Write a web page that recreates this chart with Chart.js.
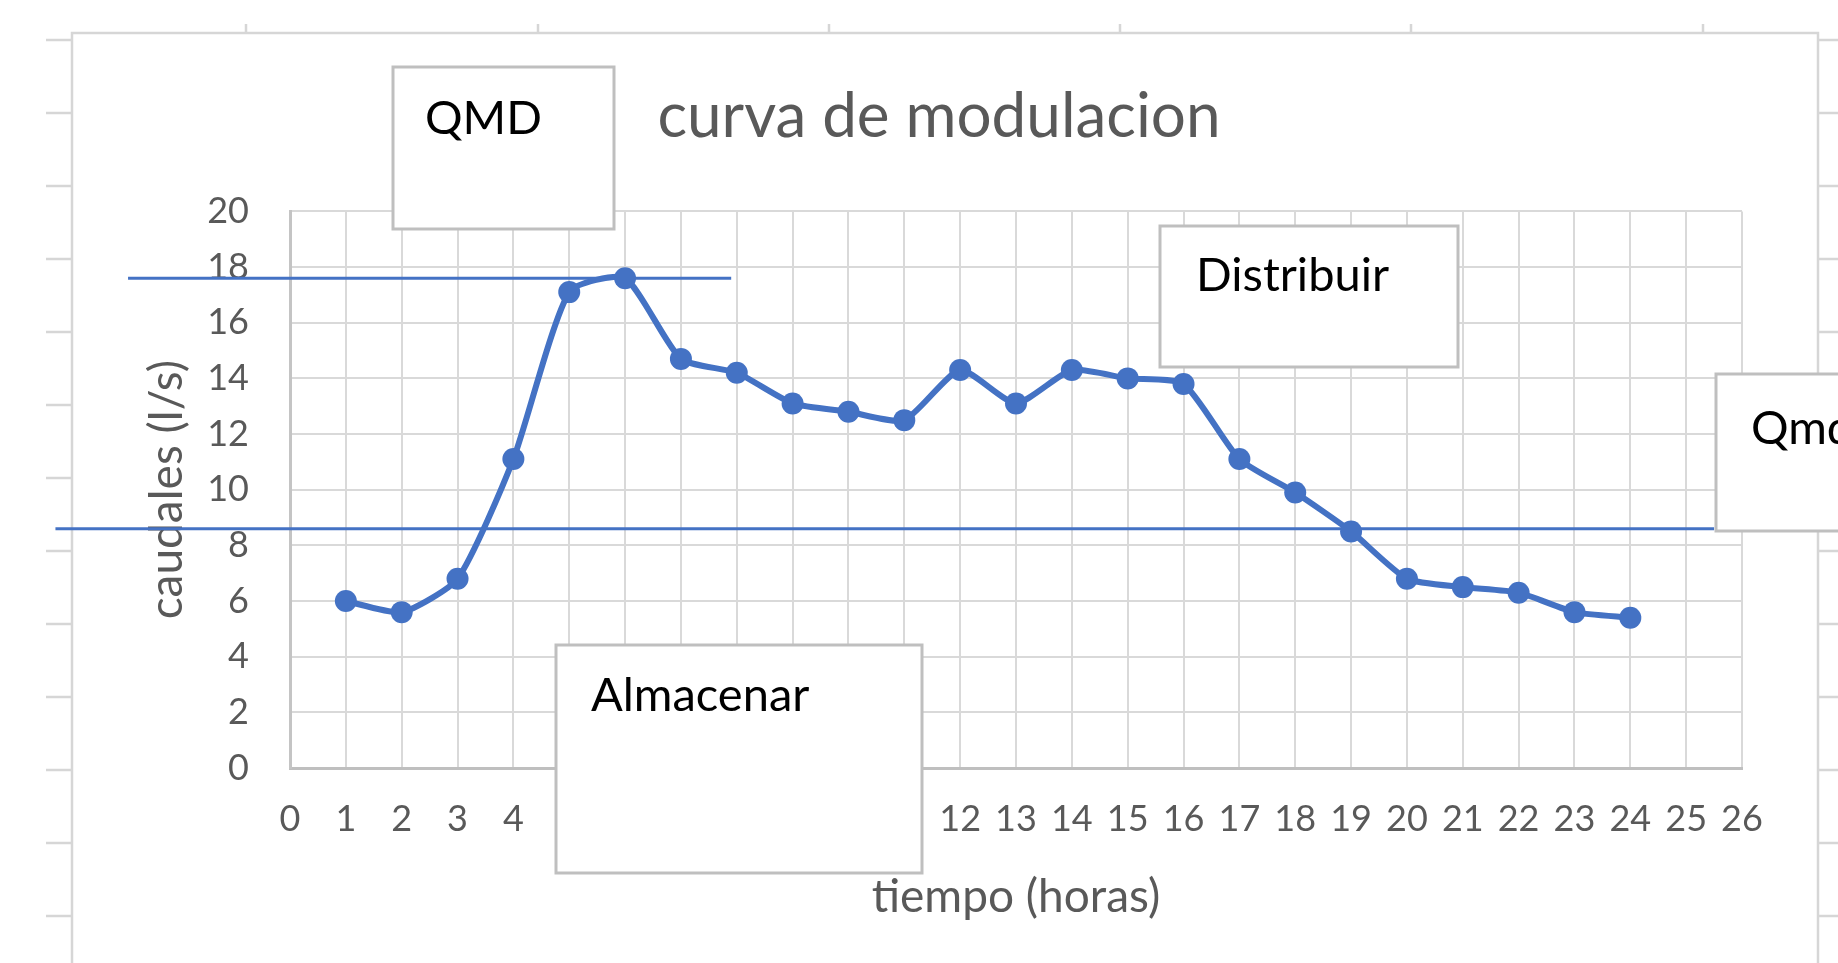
<!DOCTYPE html>
<html>
<head>
<meta charset="utf-8">
<title>curva de modulacion</title>
<script src="https://cdn.jsdelivr.net/npm/chart.js@4.4.1/dist/chart.umd.min.js"></script>
<style>
    html, body { margin: 0; padding: 0; background: #ffffff; }
    #wrap { position: relative; width: 1838px; height: 963px; }
</style>
</head>
<body>
<div id="wrap"><canvas id="modChart"></canvas></div>
<script>
// DATOS
const horas = [1, 2, 3, 4, 5, 6, 7, 8, 9, 10, 11, 12, 13, 14, 15, 16, 17, 18, 19, 20, 21, 22, 23, 24];
const caudales = [6.0, 5.6, 6.8, 11.1, 17.1, 17.6, 14.7, 14.2, 13.1, 12.8, 12.5, 14.3,
                  13.1, 14.3, 14.0, 13.8, 11.1, 9.9, 8.5, 6.8, 6.5, 6.3, 5.6, 5.4];

// ticks de los ejes
const ticksX = [0, 1, 2, 3, 4, 5, 6, 7, 8, 9, 10, 11, 12, 13, 14, 15, 16, 17, 18, 19, 20, 21, 22, 23, 24, 25, 26];
const ticksY = [0, 2, 4, 6, 8, 10, 12, 14, 16, 18, 20];

// lineas horizontales dibujadas a mano (nivel y tramo en horas)
const qmdNivel = 8.6;
const qmdTramo = [-4.2, 25.5];
const qmaxNivel = 17.6;
const qmaxTramo = [-2.9, 7.9];

const AZUL = "#4472C4";
const GRIS = "#595959";

Chart.defaults.font.family = "Lato, 'Noto Sans', sans-serif";

// FONDO TIPO HOJA DE CALCULO
const hojaFondo = {
    id: "hojaFondo",
    beforeDraw(chart) {
        const ctx = chart.ctx;
        ctx.save();
        ctx.fillStyle = "#ffffff";
        ctx.fillRect(0, 0, chart.width, chart.height);
        ctx.strokeStyle = "#d6d6d6";
        ctx.lineWidth = 2.5;

        // marco del grafico
        ctx.beginPath();
        ctx.moveTo(72, chart.height);
        ctx.lineTo(72, 33);
        ctx.lineTo(1818, 33);
        ctx.lineTo(1818, chart.height);
        ctx.stroke();

        // lineas de filas a los lados
        const filas = [40, 113, 186, 259, 332, 405, 478, 551, 624, 697, 770, 843, 916];
        ctx.beginPath();
        filas.forEach(function (y) {
            ctx.moveTo(46, y); ctx.lineTo(72, y);
            ctx.moveTo(1818, y); ctx.lineTo(1838, y);
        });
        // lineas de columnas arriba
        [246, 538, 829, 1120, 1411, 1703].forEach(function (x) {
            ctx.moveTo(x, 24); ctx.lineTo(x, 33);
        });
        ctx.stroke();
        ctx.restore();
    }
};

// CUADROS DE TEXTO
const cuadros = [
    { texto: "QMD", x: 393, y: 67, w: 221, h: 162, tx: 425, ty: 134 },
    { texto: "Distribuir", x: 1160, y: 226, w: 298, h: 141, tx: 1196, ty: 291 },
    { texto: "Almacenar", x: 556, y: 645, w: 366, h: 228, tx: 591, ty: 711 },
    { texto: "Qmd", x: 1716, y: 374, w: 160, h: 157, tx: 1751, ty: 444 }
];

const cuadrosTexto = {
    id: "cuadrosTexto",
    afterDraw(chart) {
        const ctx = chart.ctx;
        ctx.save();
        cuadros.forEach(function (c) {
            ctx.fillStyle = "#ffffff";
            ctx.fillRect(c.x, c.y, c.w, c.h);
            ctx.strokeStyle = "#bfbfbf";
            ctx.lineWidth = 3;
            ctx.strokeRect(c.x, c.y, c.w, c.h);
            ctx.fillStyle = "#000000";
            ctx.font = "47px Lato, 'Noto Sans', sans-serif";
            ctx.textBaseline = "alphabetic";
            ctx.textAlign = "left";
            ctx.fillText(c.texto, c.tx, c.ty);
        });
        ctx.restore();
    }
};

const ctx = document.getElementById("modChart").getContext("2d");
new Chart(ctx, {
    type: "line",
    data: {
        datasets: [
            {
                label: "caudales",
                data: horas.map((h, i) => ({ x: h, y: caudales[i] })),
                borderColor: AZUL,
                backgroundColor: AZUL,
                borderWidth: 6,
                pointRadius: 11,
                pointBorderWidth: 0,
                pointBackgroundColor: AZUL,
                tension: 0.2,
                order: 0
            },
            {
                label: "QMD",
                data: qmaxTramo.map(x => ({ x: x, y: qmaxNivel })),
                borderColor: AZUL,
                borderWidth: 3,
                pointRadius: 0,
                clip: false,
                order: 1
            },
            {
                label: "Qmd",
                data: qmdTramo.map(x => ({ x: x, y: qmdNivel })),
                borderColor: AZUL,
                borderWidth: 3,
                pointRadius: 0,
                clip: false,
                order: 2
            }
        ]
    },
    options: {
        responsive: true,
        maintainAspectRatio: false,
        animation: false,
        layout: {
            padding: { top: 40, left: 136, right: 96, bottom: 34 }
        },
        plugins: {
            legend: { display: false },
            tooltip: { enabled: false },
            title: {
                display: true,
                text: "curva de modulacion",
                color: GRIS,
                font: { size: 62, weight: "normal" },
                padding: { top: 40, bottom: 57 }
            }
        },
        scales: {
            x: {
                type: "linear",
                min: ticksX[0],
                max: ticksX[ticksX.length - 1],
                afterBuildTicks: function (scale) {
                    scale.ticks = ticksX.map(v => ({ value: v }));
                },
                afterFit: function (scale) { scale.height = 161; },
                ticks: {
                    autoSkip: false,
                    maxRotation: 0,
                    color: GRIS,
                    font: { size: 36 },
                    padding: 30
                },
                grid: { color: "#d9d9d9", lineWidth: 2, drawTicks: false },
                border: { color: "#bfbfbf", width: 3 },
                title: {
                    display: true,
                    text: "tiempo (horas)",
                    color: GRIS,
                    font: { size: 46 },
                    padding: { top: 4, bottom: 4 }
                }
            },
            y: {
                min: ticksY[0],
                max: ticksY[ticksY.length - 1],
                afterBuildTicks: function (scale) {
                    scale.ticks = ticksY.map(v => ({ value: v }));
                },
                afterFit: function (scale) { scale.width = 154; },
                ticks: {
                    color: GRIS,
                    font: { size: 36 },
                    padding: 41
                },
                grid: { color: "#d9d9d9", lineWidth: 2, drawTicks: false },
                border: { color: "#c4c4c4", width: 3 },
                title: {
                    display: true,
                    text: "caudales (l/s)",
                    color: GRIS,
                    font: { size: 46 },
                    padding: { top: 4, bottom: 4 }
                }
            }
        }
    },
    plugins: [hojaFondo, cuadrosTexto]
});
</script>
</body>
</html>
